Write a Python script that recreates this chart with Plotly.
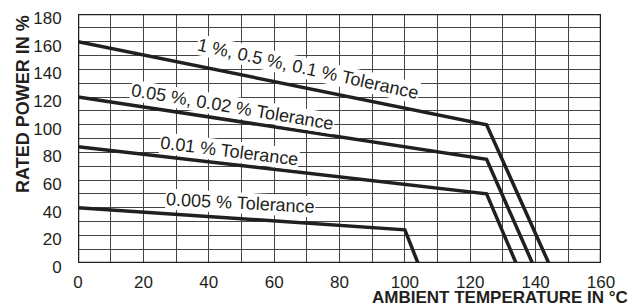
import plotly.graph_objects as go

# Derating curves (ambient temperature °C, rated power %)
t_1pct = [0, 125, 144]
p_1pct = [160, 100, 0]
t_005pct = [0, 125, 139]
p_005pct = [120, 75, 0]
t_001pct = [0, 125, 134]
p_001pct = [84, 50, 0]
t_0005pct = [0, 100, 104]
p_0005pct = [40, 24, 0]

labels = ["1 %, 0.5 %, 0.1 % Tolerance", "0.05 %, 0.02 % Tolerance",
          "0.01 % Tolerance", "0.005 % Tolerance"]
label_x = [70.5, 47.3, 46.2, 49.6]
label_y = [140.0, 112.5, 81.0, 43.5]
label_angle = [12.5, 9.5, 7, 3]

x_ticks = list(range(0, 161, 10))
x_ticktext = [str(v) if v % 20 == 0 else "" for v in x_ticks]
y_ticks = list(range(0, 181, 10))
y_ticktext = [str(v) if v % 20 == 0 else "" for v in y_ticks]

FONT = "Liberation Sans, Arial, Helvetica, sans-serif"
INK = "#231f20"

# page body has an 8px default margin; size the figure to fit the window
W, H = 631, 300
ML, MR, MT, MB = 70, 38, 6, 45
PW, PH = W - ML - MR, H - MT - MB

fig = go.Figure()
for t, p in [(t_1pct, p_1pct), (t_005pct, p_005pct), (t_001pct, p_001pct), (t_0005pct, p_0005pct)]:
    fig.add_trace(go.Scatter(x=t, y=p, mode="lines",
                             line=dict(color=INK, width=3.5),
                             showlegend=False, hoverinfo="skip"))

for txt, x, y, a in zip(labels, label_x, label_y, label_angle):
    fig.add_annotation(x=x, y=y, text=txt, showarrow=False, textangle=a,
                       bgcolor="white", borderpad=0,
                       font=dict(family=FONT, size=18, color=INK))

fig.add_shape(type="rect", xref="x", yref="y", x0=0, x1=160, y0=0, y1=180,
              line=dict(color=INK, width=2.5), layer="above")

fig.update_layout(
    width=W, height=H,
    margin=dict(l=ML, r=MR, t=MT, b=MB, autoexpand=False),
    plot_bgcolor="white", paper_bgcolor="white",
    font=dict(family=FONT, size=17, color=INK),
    xaxis=dict(range=[0, 160], tickvals=x_ticks, ticktext=x_ticktext, automargin=False,
               showgrid=True, gridcolor="#444", gridwidth=1, ticklabeloverflow="allow",
               zeroline=False, showline=False, ticks="outside", ticklen=4,
               tickcolor="rgba(0,0,0,0)"),
    yaxis=dict(range=[0, 180], tickvals=y_ticks, ticktext=y_ticktext, automargin=False,
               showgrid=True, gridcolor="#444", gridwidth=1, ticklabeloverflow="allow",
               ticklabelshift=4,
               zeroline=False, showline=False, ticks="outside", ticklen=12,
               tickcolor="rgba(0,0,0,0)"),
)

fig.add_annotation(xref="paper", yref="paper", x=1.0 + 29 / PW, y=-(MB + 1) / PH,
                   xanchor="right", yanchor="bottom",
                   text="<b>AMBIENT TEMPERATURE IN °C</b>", showarrow=False,
                   font=dict(family=FONT, size=17, color=INK))
fig.add_annotation(xref="paper", yref="paper", x=(15 - ML) / PW, y=1 + (MT - 5) / PH,
                   xanchor="center", yanchor="top",
                   text="<b>RATED POWER IN %</b>", showarrow=False, textangle=-90,
                   font=dict(family=FONT, size=18, color=INK))

fig.write_html("out.html")
